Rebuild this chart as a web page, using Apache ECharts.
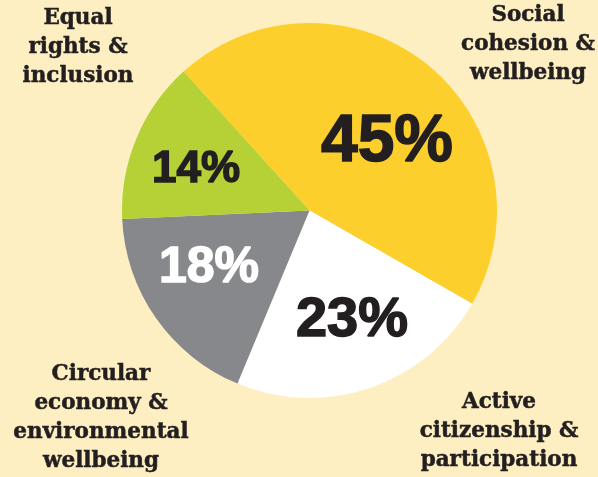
<!DOCTYPE html>
<html>
<head>
<meta charset="utf-8">
<style>
  html, body { margin: 0; padding: 0; background: #fdefc1; }
  #chart { width: 598px; height: 477px; }
</style>
<script src="https://cdn.jsdelivr.net/npm/echarts@6/dist/echarts.min.js"></script>
</head>
<body>
<div id="chart"></div>
<script>
// data
var categories = [
  'Social\ncohesion &\nwellbeing',
  'Active\ncitizenship &\nparticipation',
  'Circular\neconomy &\nenvironmental\nwellbeing',
  'Equal\nrights &\ninclusion'
];
var shares = [45, 23, 18, 14];
var sliceColors = ['#fccf2d', '#ffffff', '#87888b', '#b6d135'];
var pctColors = ['#231f20', '#231f20', '#ffffff', '#231f20'];

// where the big percentages and the category names sit
var pctPos = [[387, 143], [352, 321], [209, 268], [196, 170]];
var pctSize = [66, 56, 50, 44];
var namePos = [[528, 44], [499, 431], [101, 418], [78, 47]];

var chart = echarts.init(document.getElementById('chart'));

var pieData = shares.map(function (v, i) {
  return {
    name: categories[i],
    value: v,
    itemStyle: { color: sliceColors[i] }
  };
});

// percentages and names as text, read from the arrays above
var graphics = [];
shares.forEach(function (v, i) {
  graphics.push({
    type: 'text',
    z: 100,
    x: pctPos[i][0],
    y: pctPos[i][1],
    style: {
      text: v + '%',
      fill: pctColors[i],
      stroke: pctColors[i],
      lineWidth: 1.5,
      font: 'bold ' + pctSize[i] + 'px "Liberation Sans", Arial, sans-serif',
      align: 'center',
      verticalAlign: 'middle'
    }
  });
  graphics.push({
    type: 'text',
    z: 100,
    x: namePos[i][0],
    y: namePos[i][1],
    style: {
      text: categories[i],
      fill: '#231f20',
      stroke: '#231f20',
      lineWidth: 0.5,
      font: 'bold 21.5px "DejaVu Serif", serif',
      lineHeight: 29,
      align: 'center',
      verticalAlign: 'middle'
    }
  });
});

chart.setOption({
  backgroundColor: '#fdefc1',
  animation: false,
  series: [{
    type: 'pie',
    z: 1,
    center: [309.5, 210.5],
    radius: [0, 187.5],
    startAngle: 132.2,
    clockwise: true,
    silent: true,
    label: { show: false },
    labelLine: { show: false },
    itemStyle: { borderWidth: 0 },
    data: pieData
  }],
  graphic: { elements: graphics }
});
</script>
</body>
</html>
